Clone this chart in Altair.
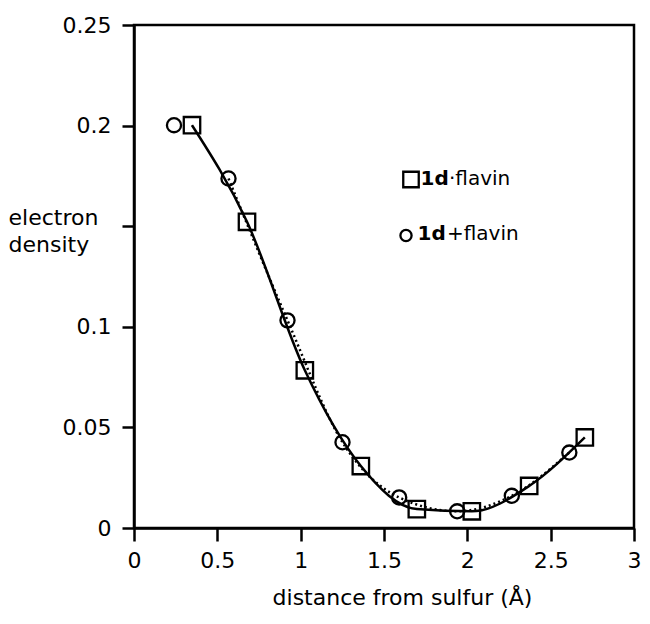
import altair as alt
import pandas as pd

# 1d·flavin (squares)
sq_x = [0.348, 0.678, 1.025, 1.361, 1.697, 2.027, 2.371, 2.705]
sq_y = [0.2002, 0.1522, 0.0784, 0.0308, 0.0094, 0.0083, 0.0209, 0.0450]
# 1d+flavin (circles)
ci_x = [0.240, 0.567, 0.921, 1.251, 1.591, 1.939, 2.267, 2.612]
ci_y = [0.2002, 0.1737, 0.1032, 0.0426, 0.0152, 0.0083, 0.0160, 0.0375]

x_ticks = [0, 0.5, 1, 1.5, 2, 2.5, 3]
x_tick_labels = ["0", "0.5", "1", "1.5", "2", "2.5", "3"]
y_ticks = [0, 0.05, 0.1, 0.15, 0.2, 0.25]
y_tick_labels = ["0", "0.05", "0.1", "", "0.2", "0.25"]

legend_bold = ["1d", "1d"]
legend_rest = ["\u00b7flavin", "+flavin"]

FONT = "DejaVu Sans"
W, H = 500, 503


def label_expr(vals, labels):
    expr = "''"
    for v, l in zip(vals, labels):
        expr = f"abs(datum.value - {v}) < 1e-9 ? '{l}' : ({expr})"
    return expr


df_sq = pd.DataFrame({"x": sq_x, "y": sq_y})
df_ci = pd.DataFrame({"x": ci_x, "y": ci_y})

xs = alt.Scale(domain=[0, 3], nice=False, zero=False)
ys = alt.Scale(domain=[0, 0.25], nice=False, zero=False)

x_axis = alt.Axis(
    values=x_ticks,
    labelExpr=label_expr(x_ticks, x_tick_labels),
    title="distance from sulfur (\u00c5)",
    titleX=268, titleY=76, titleAlign="center", titleBaseline="alphabetic",
    labelBaseline="alphabetic", labelPadding=26, tickSize=13,
    labelFlush=False, labelOverlap=False,
)
y_axis = alt.Axis(
    values=y_ticks,
    labelExpr=label_expr(y_ticks, y_tick_labels),
    title=["electron", "density"],
    titleAngle=0, titleAlign="left", titleBaseline="alphabetic",
    titleX=-126, titleY=199, titleLineHeight=27,
    labelPadding=11, tickSize=12, labelFlush=False, labelOverlap=False,
)

base_sq = alt.Chart(df_sq).encode(
    x=alt.X("x:Q", scale=xs, axis=x_axis),
    y=alt.Y("y:Q", scale=ys, axis=y_axis),
)
base_ci = alt.Chart(df_ci).encode(
    x=alt.X("x:Q", scale=xs),
    y=alt.Y("y:Q", scale=ys),
)

solid = base_sq.mark_line(interpolate="monotone", color="black", strokeWidth=2.5)
dotted = base_ci.transform_filter("datum.x > 0.3").mark_line(
    interpolate="monotone", color="black", strokeWidth=2.5, strokeDash=[2, 3]
)
squares = base_sq.mark_point(shape="square", filled=False, size=270,
                             color="black", strokeWidth=2.3, opacity=1)
circles = base_ci.mark_point(shape="circle", filled=False, size=200,
                             color="black", strokeWidth=2.3, opacity=1)

one = pd.DataFrame({"k": [0]})
leg_sq = alt.Chart(one).mark_point(shape="square", filled=False, size=240,
                                   color="black", strokeWidth=2.3, opacity=1).encode(
    x=alt.value(277), y=alt.value(154.5))
leg_ci = alt.Chart(one).mark_point(shape="circle", filled=False, size=125,
                                   color="black", strokeWidth=2.3, opacity=1).encode(
    x=alt.value(272), y=alt.value(210.5))
leg_t1b = alt.Chart(one).mark_text(align="left", baseline="alphabetic", fontSize=20,
                                   font=FONT, fontWeight="bold", color="black").encode(
    x=alt.value(286.5), y=alt.value(159.5), text=alt.value(legend_bold[0]))
leg_t1r = alt.Chart(one).mark_text(align="left", baseline="alphabetic", fontSize=20,
                                   font=FONT, color="black").encode(
    x=alt.value(315), y=alt.value(159.5), text=alt.value(legend_rest[0]))
leg_t2b = alt.Chart(one).mark_text(align="left", baseline="alphabetic", fontSize=20,
                                   font=FONT, fontWeight="bold", color="black").encode(
    x=alt.value(283.5), y=alt.value(214.5), text=alt.value(legend_bold[1]))
leg_t2r = alt.Chart(one).mark_text(align="left", baseline="alphabetic", fontSize=20,
                                   font=FONT, color="black").encode(
    x=alt.value(313), y=alt.value(214.5), text=alt.value(legend_rest[1]))

chart = alt.layer(
    solid, dotted, squares, circles, leg_sq, leg_ci, leg_t1b, leg_t1r, leg_t2b, leg_t2r
).properties(
    width=W, height=H,
    autosize=alt.AutoSizeParams(type="none"),
    padding={"left": 126, "top": 17, "right": 8, "bottom": 80},
).configure(
    font=FONT,
).configure_view(
    stroke="black", strokeWidth=2.5,
).configure_axis(
    grid=False,
    domainColor="black", domainWidth=2.5,
    tickColor="black", tickWidth=2.5,
    labelColor="black", labelFontSize=22, labelFont=FONT,
    titleColor="black", titleFontSize=22, titleFont=FONT, titleFontWeight="normal",
)

chart.save("out.html", embed_options={"renderer": "svg", "actions": False})
